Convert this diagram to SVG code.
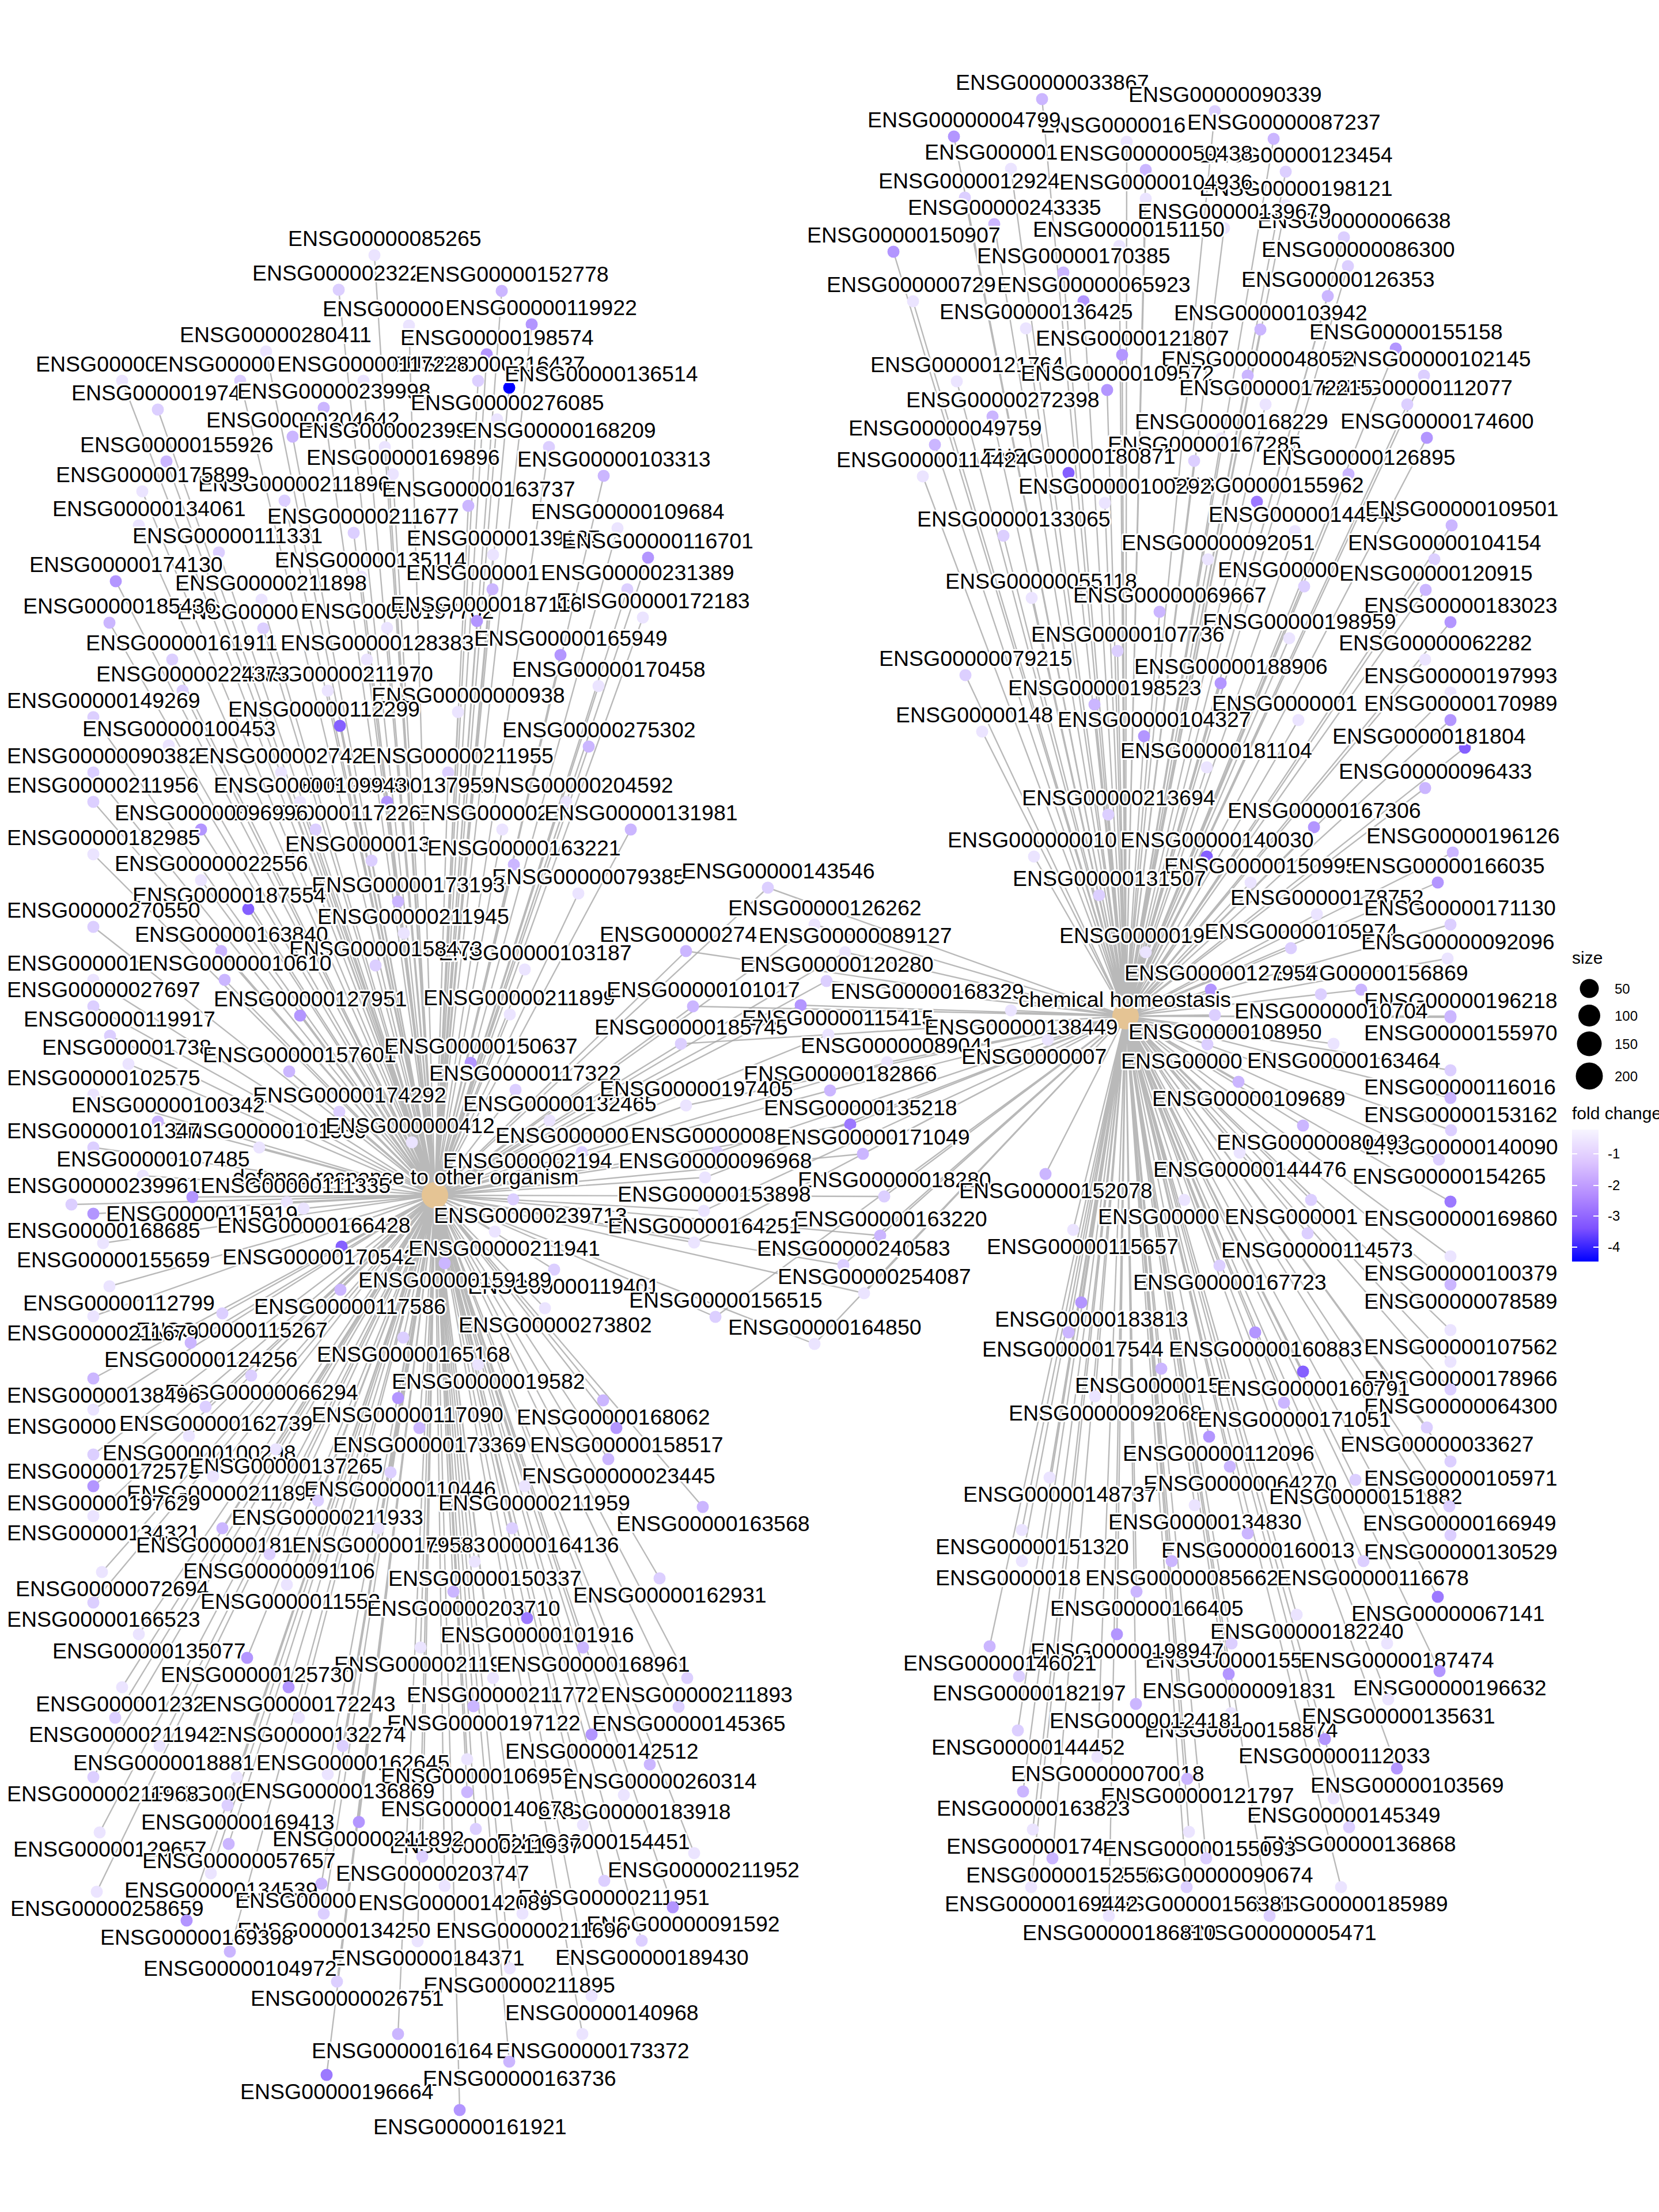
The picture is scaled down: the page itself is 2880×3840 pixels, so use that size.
<svg xmlns="http://www.w3.org/2000/svg" width="2880" height="3840" viewBox="0 0 2880 3840">
<style>
text{font-family:"Liberation Sans",Arial,sans-serif;font-size:37.5px;fill:#000;stroke:#fff;stroke-width:6px;paint-order:stroke;stroke-linejoin:round}
.lg{font-size:24px;stroke:none}
.lt{font-size:30px;stroke:none}
.e{fill:none;stroke:#a8a8a8;stroke-width:2.4;stroke-opacity:.8}
.a{fill:#ebe4ff}.b{fill:#dccfff}.c{fill:#cbb6ff}.d{fill:#b396ff}.e2{fill:#9c79ff}.g{fill:#8560ff}.f{fill:#0000ff}
.hub{fill:#e5c494}
</style>
<defs>
<linearGradient id="fc" x1="0" y1="0" x2="0" y2="1">
<stop offset="0" stop-color="#f7f5ff"/><stop offset=".25" stop-color="#dcc4ff"/><stop offset=".5" stop-color="#b38bff"/><stop offset=".75" stop-color="#7e51ff"/><stop offset="1" stop-color="#0000ff"/>
</linearGradient>
</defs>
<rect width="2880" height="3840" fill="#fff"/>
<g id="edges">
<path class="e" d="M755 2075L650 443M755 2075L588 503M755 2075L871 505M755 2075L710 565M755 2075L923 563M755 2075L462 610M755 2075L845 615M755 2075L830 661M755 2075L212 661M755 2075L417 661M755 2075L631 661M755 2075L884 673M755 2075L274 711M755 2075L562 708M755 2075L863 728M755 2075L508 758M755 2075L668 776M755 2075L953 776M755 2075L289 801M755 2075L682 823M755 2075L1048 826M755 2075L494 869M755 2075L247 853M755 2075L813 878M755 2075L241 912M755 2075L614 925M755 2075L1072 917M755 2075L380 959M755 2075L856 963M755 2075L1125 968M755 2075L201 1009M755 2075L627 1001M755 2075L855 1023M755 2075L1089 1023M755 2075L454 1041M755 2075L1116 1072M755 2075L457 1091M755 2075L190 1081M755 2075L672 1090M755 2075L828 1078M755 2075L299 1145M755 2075L637 1145M755 2075L973 1137M755 2075L1039 1191M755 2075L569 1199M755 2075L317 1199M755 2075L795 1236M755 2075L162 1245M755 2075L590 1260M755 2075L1022 1296M755 2075L293 1294M755 2075L162 1341M755 2075L488 1341M755 2075L778 1341M755 2075L983 1392M755 2075L672 1392M755 2075L521 1392M755 2075L162 1392M755 2075L872 1440M755 2075L548 1440M755 2075L349 1440M755 2075L1095 1440M755 2075L162 1483M755 2075L645 1494M755 2075L892 1501M755 2075L349 1528M755 2075L1004 1551M755 2075L691 1565M755 2075L431 1578M755 2075L162 1609M755 2075L701 1620M755 2075L384 1651M755 2075L911 1683M755 2075L652 1676M755 2075L162 1701M755 2075L390 1701M755 2075L162 1747M755 2075L521 1763M755 2075L885 1761M755 2075L191 1798M755 2075L223 1847M755 2075L502 1860M755 2075L817 1845M755 2075L162 1900M755 2075L895 1892M755 2075L589 1930M755 2075L954 1945M755 2075L274 1947M755 2075L450 1992M755 2075L162 1992M755 2075L715 1983M755 2075L1010 2000M755 2075L248 2041M755 2075L919 2044M755 2075L124 2091M755 2075L498 2087M755 2075L334 2078M755 2075L891 2082M755 2075L527 2098M755 2075L162 2107M755 2075L179 2158M755 2075L593 2164M755 2075L859 2138M755 2075L962 2204M755 2075L772 2193M755 2075L190 2233M755 2075L591 2239M755 2075L946 2271M755 2075L386 2280M755 2075L162 2285M755 2075L331 2331M755 2075L700 2322M755 2075L830 2369M755 2075L436 2388M755 2075L162 2393M755 2075L162 2447M755 2075L357 2442M755 2075L691 2427M755 2075L1047 2431M755 2075L328 2493M755 2075L728 2479M755 2075L1070 2479M755 2075L162 2525M755 2075L479 2516M755 2075L1056 2533M755 2075L370 2563M755 2075L678 2556M755 2075L162 2580M755 2075L911 2580M755 2075L552 2605M755 2075L1220 2616M755 2075L162 2632M755 2075L889 2653M755 2075L657 2653M755 2075L386 2653M755 2075L468 2698M755 2075L824 2711M755 2075L177 2729M755 2075L1145 2740M755 2075L498 2751M755 2075L787 2763M755 2075L162 2782M755 2075L915 2809M755 2075L241 2837M755 2075L730 2860M755 2075L1012 2860M755 2075L429 2878M755 2075L856 2913M755 2075L1193 2913M755 2075L212 2929M755 2075L501 2929M755 2075L822 2962M755 2075L1178 2963M755 2075L519 2982M755 2075L200 2982M755 2075L1027 3011M755 2075L277 3031M755 2075L595 3031M755 2075L811 3054M755 2075L1128 3063M755 2075L411 3085M755 2075L162 3085M755 2075L569 3080M755 2075L1083 3116M755 2075L811 3111M755 2075L395 3134M755 2075L1012 3168M755 2075L826 3175M755 2075L623 3163M755 2075L173 3181M755 2075L397 3201M755 2075L1205 3217M755 2075L733 3223M755 2075L366 3252M755 2075L1049 3265M755 2075L558 3270M755 2075L772 3274M755 2075L168 3284M755 2075L1168 3311M755 2075L907 3322M755 2075L562 3322M755 2075L324 3334M755 2075L725 3370M755 2075L1114 3369M755 2075L399 3388M755 2075L885 3417M755 2075L585 3440M755 2075L1027 3465M755 2075L691 3531M755 2075L1011 3531M755 2075L884 3579M755 2075L567 3602M755 2075L798 3663M755 2075L1333 1541M755 2075L1414 1605M755 2075L1191 1651M755 2075L1467 1653M755 2075L1435 1703M755 2075L1203 1747M755 2075L1390 1745M755 2075L1438 1796M755 2075L1182 1812M755 2075L1540 1844M755 2075L1441 1893M755 2075L1191 1919M755 2075L1476 1952M755 2075L1245 2000M755 2075L1498 2003M755 2075L1224 2044M755 2075L1535 2077M755 2075L1222 2102M755 2075L1528 2145M755 2075L1205 2157M755 2075L1464 2196M755 2075L1500 2245M755 2075L1242 2286M755 2075L1414 2333"/>
<path class="e" d="M1954 1764L1809 172M1954 1764L2109 193M1954 1764L1956 246M1954 1764L1656 237M1954 1764L2211 241M1954 1764L1755 293M1954 1764L2232 298M1954 1764L1989 295M1954 1764L1675 343M1954 1764L2232 356M1954 1764L1989 345M1954 1764L1726 389M1954 1764L2333 412M1954 1764L2125 396M1954 1764L1943 427M1954 1764L1551 437M1954 1764L2340 462M1954 1764L1846 473M1954 1764L1585 523M1954 1764L1881 523M1954 1764L2305 514M1954 1764L1781 570M1954 1764L2188 572M1954 1764L2423 605M1954 1764L1948 616M1954 1764L2472 652M1954 1764L2166 652M1954 1764L1661 662M1954 1764L1922 677M1954 1764L2443 702M1954 1764L2197 702M1954 1764L1723 723M1954 1764L2120 761M1954 1764L2477 760M1954 1764L1623 772M1954 1764L2073 800M1954 1764L1855 821M1954 1764L1602 827M1954 1764L2341 823M1954 1764L2182 871M1954 1764L1918 873M1954 1764L1742 930M1954 1764L2248 922M1954 1764L2520 912M1954 1764L2097 971M1954 1764L2490 971M1954 1764L2264 1018M1954 1764L2475 1024M1954 1764L1791 1038M1954 1764L2013 1062M1954 1764L2518 1080M1954 1764L2238 1108M1954 1764L1940 1130M1954 1764L2474 1145M1954 1764L1676 1172M1954 1764L2119 1186M1954 1764L2518 1202M1954 1764L1900 1223M1954 1764L2254 1250M1954 1764L2518 1250M1954 1764L1705 1270M1954 1764L1986 1278M1954 1764L2543 1298M1954 1764L2095 1332M1954 1764L2474 1368M1954 1764L1924 1414M1954 1764L2281 1436M1954 1764L1795 1487M1954 1764L2095 1487M1954 1764L2522 1480M1954 1764L2171 1532M1954 1764L2496 1532M1954 1764L1908 1554M1954 1764L2286 1587M1954 1764L2518 1605M1954 1764L1989 1653M1954 1764L2241 1646M1954 1764L2513 1664M1954 1764L2363 1718M1954 1764L2102 1718M1954 1764L2518 1766M1954 1764L2293 1726M1954 1764L2518 1764M1954 1764L1755 1754M1954 1764L2109 1762M1954 1764L1819 1805M1954 1764L2096 1813M1954 1764L2315 1812M1954 1764L2518 1858M1954 1764L2150 1878M1954 1764L2518 1906M1954 1764L2519 1962M1954 1764L2262 1954M1954 1764L2152 2001M1954 1764L2498 2013M1954 1764L1815 2038M1954 1764L2056 2083M1954 1764L2276 2083M1954 1764L2518 2086M1954 1764L1863 2135M1954 1764L2270 2141M1954 1764L2518 2181M1954 1764L2117 2197M1954 1764L2518 2230M1954 1764L1877 2261M1954 1764L1855 2313M1954 1764L2179 2313M1954 1764L2518 2309M1954 1764L2518 2364M1954 1764L2016 2376M1954 1764L2262 2381M1954 1764L2518 2412M1954 1764L1901 2424M1954 1764L2229 2435M1954 1764L2477 2478M1954 1764L2099 2494M1954 1764L2518 2537M1954 1764L2135 2546M1954 1764L1822 2565M1954 1764L2353 2569M1954 1764L2074 2613M1954 1764L2516 2615M1954 1764L1774 2656M1954 1764L2166 2662M1954 1764L2518 2665M1954 1764L1774 2710M1954 1764L2034 2710M1954 1764L2367 2710M1954 1764L1973 2763M1954 1764L2496 2772M1954 1764L2251 2803M1954 1764L2138 2853M1954 1764L1939 2837M1954 1764L1718 2858M1954 1764L2408 2853M1954 1764L1769 2910M1954 1764L2133 2906M1954 1764L2499 2901M1954 1764L2137 2974M1954 1764L1972 2958M1954 1764L2410 2950M1954 1764L1767 3004M1954 1764L2300 3019M1954 1764L1905 3050M1954 1764L2425 3070M1954 1764L2061 3088M1954 1764L1776 3110M1954 1764L2315 3122M1954 1764L2342 3172M1954 1764L1793 3176M1954 1764L2064 3180M1954 1764L2094 3226M1954 1764L1827 3226M1954 1764L2328 3276M1954 1764L2060 3276M1954 1764L1790 3276M1954 1764L2204 3326M1954 1764L1925 3326M1954 1764L1333 1541M1954 1764L1414 1605M1954 1764L1191 1651M1954 1764L1467 1653M1954 1764L1435 1703M1954 1764L1203 1747M1954 1764L1390 1745M1954 1764L1438 1796M1954 1764L1182 1812M1954 1764L1540 1844M1954 1764L1441 1893M1954 1764L1191 1919M1954 1764L1476 1952M1954 1764L1245 2000M1954 1764L1498 2003M1954 1764L1224 2044M1954 1764L1535 2077M1954 1764L1222 2102M1954 1764L1528 2145M1954 1764L1205 2157M1954 1764L1464 2196M1954 1764L1500 2245M1954 1764L1242 2286M1954 1764L1414 2333"/>
</g>
<g id="nodes">
<g id="l1"><circle class="a" cx="650" cy="443" r="10.5"/><text x="500" y="427">ENSG00000085265</text></g>
<g id="l2"><circle class="b" cx="588" cy="503" r="10.5"/><text x="438" y="487">ENSG000002322</text></g>
<g id="l3"><circle class="c" cx="871" cy="505" r="10.5"/><text x="721" y="489">ENSG00000152778</text></g>
<g id="l4"><circle class="a" cx="710" cy="565" r="10.5"/><text x="560" y="549">ENSG00000</text></g>
<g id="l5"><circle class="d" cx="923" cy="563" r="10.5"/><text x="773" y="547">ENSG00000119922</text></g>
<g id="l6"><circle class="a" cx="462" cy="610" r="10.5"/><text x="312" y="594">ENSG00000280411</text></g>
<g id="l7"><circle class="d" cx="845" cy="615" r="10.5"/><text x="695" y="599">ENSG00000198574</text></g>
<g id="l8"><circle class="b" cx="830" cy="661" r="10.5"/><text x="680" y="645">ENSG00000216437</text></g>
<g id="l9"><circle class="a" cx="212" cy="661" r="10.5"/><text x="62" y="645">ENSG00000</text></g>
<g id="l10"><circle class="b" cx="417" cy="661" r="10.5"/><text x="267" y="645">ENSG00000</text></g>
<g id="l11"><circle class="a" cx="631" cy="661" r="10.5"/><text x="481" y="645">ENSG00000117228</text></g>
<g id="l12"><circle class="f" cx="884" cy="673" r="10.5"/><text x="876" y="662">ENSG00000136514</text></g>
<g id="l13"><circle class="b" cx="274" cy="711" r="10.5"/><text x="124" y="695">ENSG000001974</text></g>
<g id="l14"><circle class="c" cx="562" cy="708" r="10.5"/><text x="412" y="692">ENSG00000239998</text></g>
<g id="l15"><circle class="a" cx="863" cy="728" r="10.5"/><text x="713" y="712">ENSG00000276085</text></g>
<g id="l16"><circle class="c" cx="508" cy="758" r="10.5"/><text x="358" y="742">ENSG00000204642</text></g>
<g id="l17"><circle class="a" cx="668" cy="776" r="10.5"/><text x="518" y="760">ENSG000002399</text></g>
<g id="l18"><circle class="b" cx="953" cy="776" r="10.5"/><text x="803" y="760">ENSG00000168209</text></g>
<g id="l19"><circle class="c" cx="289" cy="801" r="10.5"/><text x="139" y="785">ENSG00000155926</text></g>
<g id="l20"><circle class="a" cx="682" cy="823" r="10.5"/><text x="532" y="807">ENSG00000169896</text></g>
<g id="l21"><circle class="c" cx="1048" cy="826" r="10.5"/><text x="898" y="810">ENSG00000103313</text></g>
<g id="l22"><circle class="b" cx="494" cy="869" r="10.5"/><text x="344" y="853">ENSG00000211896</text></g>
<g id="l23"><circle class="a" cx="247" cy="853" r="10.5"/><text x="97" y="837">ENSG00000175899</text></g>
<g id="l24"><circle class="c" cx="813" cy="878" r="10.5"/><text x="663" y="862">ENSG00000163737</text></g>
<g id="l25"><circle class="a" cx="241" cy="912" r="10.5"/><text x="91" y="896">ENSG00000134061</text></g>
<g id="l26"><circle class="b" cx="614" cy="925" r="10.5"/><text x="464" y="909">ENSG00000211677</text></g>
<g id="l27"><circle class="a" cx="1072" cy="917" r="10.5"/><text x="922" y="901">ENSG00000109684</text></g>
<g id="l28"><circle class="b" cx="380" cy="959" r="10.5"/><text x="230" y="943">ENSG00000111331</text></g>
<g id="l29"><circle class="a" cx="856" cy="963" r="10.5"/><text x="706" y="947">ENSG00000139187</text></g>
<g id="l30"><circle class="d" cx="1125" cy="968" r="10.5"/><text x="975" y="952">ENSG00000116701</text></g>
<g id="l31"><circle class="d" cx="201" cy="1009" r="10.5"/><text x="51" y="993">ENSG00000174130</text></g>
<g id="l32"><circle class="a" cx="627" cy="1001" r="10.5"/><text x="477" y="985">ENSG00000135114</text></g>
<g id="l33"><circle class="c" cx="855" cy="1023" r="10.5"/><text x="705" y="1007">ENSG000001</text></g>
<g id="l34"><circle class="b" cx="1089" cy="1023" r="10.5"/><text x="939" y="1007">ENSG00000231389</text></g>
<g id="l35"><circle class="a" cx="454" cy="1041" r="10.5"/><text x="304" y="1025">ENSG00000211898</text></g>
<g id="l36"><circle class="a" cx="1116" cy="1072" r="10.5"/><text x="966" y="1056">ENSG00000172183</text></g>
<g id="l37"><circle class="b" cx="457" cy="1091" r="10.5"/><text x="307" y="1075">ENSG00000</text></g>
<g id="l38"><circle class="c" cx="190" cy="1081" r="10.5"/><text x="40" y="1065">ENSG00000185436</text></g>
<g id="l39"><circle class="a" cx="672" cy="1090" r="10.5"/><text x="522" y="1074">ENSG00000197702</text></g>
<g id="l40"><circle class="d" cx="828" cy="1078" r="10.5"/><text x="678" y="1062">ENSG00000187116</text></g>
<g id="l41"><circle class="b" cx="299" cy="1145" r="10.5"/><text x="149" y="1129">ENSG00000161911</text></g>
<g id="l42"><circle class="a" cx="637" cy="1145" r="10.5"/><text x="487" y="1129">ENSG00000128383</text></g>
<g id="l43"><circle class="d" cx="973" cy="1137" r="10.5"/><text x="823" y="1121">ENSG00000165949</text></g>
<g id="l44"><circle class="a" cx="1039" cy="1191" r="10.5"/><text x="889" y="1175">ENSG00000170458</text></g>
<g id="l45"><circle class="a" cx="569" cy="1199" r="10.5"/><text x="419" y="1183">ENSG00000211970</text></g>
<g id="l46"><circle class="b" cx="317" cy="1199" r="10.5"/><text x="167" y="1183">ENSG00000224373</text></g>
<g id="l47"><circle class="a" cx="795" cy="1236" r="10.5"/><text x="645" y="1220">ENSG00000000938</text></g>
<g id="l48"><circle class="b" cx="162" cy="1245" r="10.5"/><text x="12" y="1229">ENSG00000149269</text></g>
<g id="l49"><circle class="g" cx="590" cy="1260" r="10.5"/><text x="396" y="1244">ENSG00000112299</text></g>
<g id="l50"><circle class="c" cx="1022" cy="1296" r="10.5"/><text x="872" y="1280">ENSG00000275302</text></g>
<g id="l51"><circle class="a" cx="293" cy="1294" r="10.5"/><text x="143" y="1278">ENSG00000100453</text></g>
<g id="l52"><circle class="b" cx="162" cy="1341" r="10.5"/><text x="12" y="1325">ENSG00000090382</text></g>
<g id="l53"><circle class="a" cx="488" cy="1341" r="10.5"/><text x="338" y="1325">ENSG000002742</text></g>
<g id="l54"><circle class="b" cx="778" cy="1341" r="10.5"/><text x="628" y="1325">ENSG00000211955</text></g>
<g id="l55"><circle class="a" cx="983" cy="1392" r="10.5"/><text x="833" y="1376">ENSG00000204592</text></g>
<g id="l56"><circle class="d" cx="672" cy="1392" r="10.5"/><text x="522" y="1376">ENSG00000137959</text></g>
<g id="l57"><circle class="a" cx="521" cy="1392" r="10.5"/><text x="371" y="1376">ENSG00000109943</text></g>
<g id="l58"><circle class="b" cx="162" cy="1392" r="10.5"/><text x="12" y="1376">ENSG00000211956</text></g>
<g id="l59"><circle class="a" cx="872" cy="1440" r="10.5"/><text x="722" y="1424">ENSG000002</text></g>
<g id="l60"><circle class="b" cx="548" cy="1440" r="10.5"/><text x="398" y="1424">ENSG00000117226</text></g>
<g id="l61"><circle class="d" cx="349" cy="1440" r="10.5"/><text x="199" y="1424">ENSG00000096996</text></g>
<g id="l62"><circle class="c" cx="1095" cy="1440" r="10.5"/><text x="945" y="1424">ENSG00000131981</text></g>
<g id="l63"><circle class="a" cx="162" cy="1483" r="10.5"/><text x="12" y="1467">ENSG00000182985</text></g>
<g id="l64"><circle class="b" cx="645" cy="1494" r="10.5"/><text x="495" y="1478">ENSG0000013</text></g>
<g id="l65"><circle class="c" cx="892" cy="1501" r="10.5"/><text x="742" y="1485">ENSG00000163221</text></g>
<g id="l66"><circle class="a" cx="349" cy="1528" r="10.5"/><text x="199" y="1512">ENSG00000022556</text></g>
<g id="l67"><circle class="a" cx="1004" cy="1551" r="10.5"/><text x="854" y="1535">ENSG00000079385</text></g>
<g id="l68"><circle class="c" cx="691" cy="1565" r="10.5"/><text x="541" y="1549">ENSG00000173193</text></g>
<g id="l69"><circle class="g" cx="431" cy="1578" r="10.5"/><text x="230" y="1567">ENSG00000187554</text></g>
<g id="l70"><circle class="b" cx="162" cy="1609" r="10.5"/><text x="12" y="1593">ENSG00000270550</text></g>
<g id="l71"><circle class="a" cx="701" cy="1620" r="10.5"/><text x="551" y="1604">ENSG00000211945</text></g>
<g id="l72"><circle class="c" cx="384" cy="1651" r="10.5"/><text x="234" y="1635">ENSG00000163840</text></g>
<g id="l73"><circle class="a" cx="911" cy="1683" r="10.5"/><text x="761" y="1667">ENSG00000103187</text></g>
<g id="l74"><circle class="b" cx="652" cy="1676" r="10.5"/><text x="502" y="1660">ENSG00000158473</text></g>
<g id="l75"><circle class="a" cx="162" cy="1701" r="10.5"/><text x="12" y="1685">ENSG000001</text></g>
<g id="l76"><circle class="c" cx="390" cy="1701" r="10.5"/><text x="240" y="1685">ENSG00000010610</text></g>
<g id="l77"><circle class="b" cx="162" cy="1747" r="10.5"/><text x="12" y="1731">ENSG00000027697</text></g>
<g id="l78"><circle class="d" cx="521" cy="1763" r="10.5"/><text x="371" y="1747">ENSG00000127951</text></g>
<g id="l79"><circle class="a" cx="885" cy="1761" r="10.5"/><text x="735" y="1745">ENSG00000211899</text></g>
<g id="l80"><circle class="b" cx="191" cy="1798" r="10.5"/><text x="41" y="1782">ENSG00000119917</text></g>
<g id="l81"><circle class="a" cx="223" cy="1847" r="10.5"/><text x="73" y="1831">ENSG000001738</text></g>
<g id="l82"><circle class="c" cx="502" cy="1860" r="10.5"/><text x="352" y="1844">ENSG00000157601</text></g>
<g id="l83"><circle class="d" cx="817" cy="1845" r="10.5"/><text x="667" y="1829">ENSG00000150637</text></g>
<g id="l84"><circle class="a" cx="162" cy="1900" r="10.5"/><text x="12" y="1884">ENSG00000102575</text></g>
<g id="l85"><circle class="b" cx="895" cy="1892" r="10.5"/><text x="745" y="1876">ENSG00000117322</text></g>
<g id="l86"><circle class="b" cx="589" cy="1930" r="10.5"/><text x="439" y="1914">ENSG00000174292</text></g>
<g id="l87"><circle class="a" cx="954" cy="1945" r="10.5"/><text x="804" y="1929">ENSG00000132465</text></g>
<g id="l88"><circle class="c" cx="274" cy="1947" r="10.5"/><text x="124" y="1931">ENSG00000100342</text></g>
<g id="l89"><circle class="a" cx="450" cy="1992" r="10.5"/><text x="300" y="1976">ENSG00000101336</text></g>
<g id="l90"><circle class="b" cx="162" cy="1992" r="10.5"/><text x="12" y="1976">ENSG00000101347</text></g>
<g id="l91"><circle class="a" cx="715" cy="1983" r="10.5"/><text x="565" y="1967">ENSG000000412</text></g>
<g id="l92"><circle class="b" cx="1010" cy="2000" r="10.5"/><text x="860" y="1984">ENSG000000</text></g>
<g id="l93"><circle class="a" cx="248" cy="2041" r="10.5"/><text x="98" y="2025">ENSG00000107485</text></g>
<g id="l94"><circle class="c" cx="919" cy="2044" r="10.5"/><text x="769" y="2028">ENSG000002194</text></g>
<g id="hub1"><circle class="hub" cx="755" cy="2075" r="23"/><text x="404" y="2056">defense response to other organism</text></g>
<g id="l96"><circle class="b" cx="124" cy="2091" r="10.5"/><text x="12" y="2071">ENSG00000239961</text></g>
<g id="l97"><circle class="a" cx="498" cy="2087" r="10.5"/><text x="348" y="2071">ENSG00000111335</text></g>
<g id="l98"><circle class="d" cx="334" cy="2078" r="10.5"/><text x="184" y="2120">ENSG00000115919</text></g>
<g id="l99"><circle class="b" cx="891" cy="2082" r="10.5"/><text x="753" y="2123">ENSG00000239713</text></g>
<g id="l100"><circle class="a" cx="527" cy="2098" r="10.5"/><text x="377" y="2140">ENSG00000166428</text></g>
<g id="l101"><circle class="d" cx="162" cy="2107" r="10.5"/><text x="12" y="2149">ENSG00000168685</text></g>
<g id="l102"><circle class="a" cx="179" cy="2158" r="10.5"/><text x="29" y="2200">ENSG00000155659</text></g>
<g id="l103"><circle class="g" cx="593" cy="2164" r="10.5"/><text x="386" y="2195">ENSG00000170542</text></g>
<g id="l104"><circle class="a" cx="859" cy="2138" r="10.5"/><text x="709" y="2180">ENSG00000211941</text></g>
<g id="l105"><circle class="b" cx="962" cy="2204" r="10.5"/><text x="812" y="2246">ENSG00000119401</text></g>
<g id="l106"><circle class="c" cx="772" cy="2193" r="10.5"/><text x="622" y="2235">ENSG00000159189</text></g>
<g id="l107"><circle class="a" cx="190" cy="2233" r="10.5"/><text x="40" y="2275">ENSG00000112799</text></g>
<g id="l108"><circle class="c" cx="591" cy="2239" r="10.5"/><text x="441" y="2281">ENSG00000117586</text></g>
<g id="l109"><circle class="a" cx="946" cy="2271" r="10.5"/><text x="796" y="2313">ENSG00000273802</text></g>
<g id="l110"><circle class="b" cx="386" cy="2280" r="10.5"/><text x="236" y="2322">ENSG00000115267</text></g>
<g id="l111"><circle class="a" cx="162" cy="2285" r="10.5"/><text x="12" y="2327">ENSG00000211679</text></g>
<g id="l112"><circle class="c" cx="331" cy="2331" r="10.5"/><text x="181" y="2373">ENSG00000124256</text></g>
<g id="l113"><circle class="b" cx="700" cy="2322" r="10.5"/><text x="550" y="2364">ENSG00000165168</text></g>
<g id="l114"><circle class="a" cx="830" cy="2369" r="10.5"/><text x="680" y="2411">ENSG00000019582</text></g>
<g id="l115"><circle class="b" cx="436" cy="2388" r="10.5"/><text x="286" y="2430">ENSG00000066294</text></g>
<g id="l116"><circle class="c" cx="162" cy="2393" r="10.5"/><text x="12" y="2435">ENSG00000138496</text></g>
<g id="l117"><circle class="a" cx="162" cy="2447" r="10.5"/><text x="12" y="2489">ENSG0000</text></g>
<g id="l118"><circle class="b" cx="357" cy="2442" r="10.5"/><text x="207" y="2484">ENSG00000162739</text></g>
<g id="l119"><circle class="d" cx="691" cy="2427" r="10.5"/><text x="541" y="2469">ENSG00000117090</text></g>
<g id="l120"><circle class="c" cx="1047" cy="2431" r="10.5"/><text x="897" y="2473">ENSG00000168062</text></g>
<g id="l121"><circle class="a" cx="328" cy="2493" r="10.5"/><text x="178" y="2535">ENSG00000100298</text></g>
<g id="l122"><circle class="c" cx="728" cy="2479" r="10.5"/><text x="578" y="2521">ENSG00000173369</text></g>
<g id="l123"><circle class="d" cx="1070" cy="2479" r="10.5"/><text x="920" y="2521">ENSG00000158517</text></g>
<g id="l125"><circle class="b" cx="162" cy="2525" r="10.5"/><text x="12" y="2567">ENSG00000172575</text></g>
<g id="l124"><circle class="a" cx="479" cy="2516" r="10.5"/><text x="329" y="2558">ENSG00000137265</text></g>
<g id="l126"><circle class="c" cx="1056" cy="2533" r="10.5"/><text x="906" y="2575">ENSG00000023445</text></g>
<g id="l127"><circle class="a" cx="370" cy="2563" r="10.5"/><text x="220" y="2605">ENSG00000211897</text></g>
<g id="l128"><circle class="b" cx="678" cy="2556" r="10.5"/><text x="528" y="2598">ENSG00000110446</text></g>
<g id="l129"><circle class="d" cx="162" cy="2580" r="10.5"/><text x="12" y="2622">ENSG00000197629</text></g>
<g id="l130"><circle class="a" cx="911" cy="2580" r="10.5"/><text x="761" y="2622">ENSG00000211959</text></g>
<g id="l131"><circle class="b" cx="552" cy="2605" r="10.5"/><text x="402" y="2647">ENSG00000211933</text></g>
<g id="l132"><circle class="c" cx="1220" cy="2616" r="10.5"/><text x="1070" y="2658">ENSG00000163568</text></g>
<g id="l133"><circle class="a" cx="162" cy="2632" r="10.5"/><text x="12" y="2674">ENSG00000134321</text></g>
<g id="l134"><circle class="b" cx="889" cy="2653" r="10.5"/><text x="739" y="2695">ENSG00000164136</text></g>
<g id="l135"><circle class="a" cx="657" cy="2653" r="10.5"/><text x="507" y="2695">ENSG00000179583</text></g>
<g id="l136"><circle class="c" cx="386" cy="2653" r="10.5"/><text x="236" y="2695">ENSG00000181</text></g>
<g id="l137"><circle class="b" cx="468" cy="2698" r="10.5"/><text x="318" y="2740">ENSG00000091106</text></g>
<g id="l138"><circle class="a" cx="824" cy="2711" r="10.5"/><text x="674" y="2753">ENSG00000150337</text></g>
<g id="l139"><circle class="a" cx="177" cy="2729" r="10.5"/><text x="27" y="2771">ENSG00000072694</text></g>
<g id="l140"><circle class="b" cx="1145" cy="2740" r="10.5"/><text x="995" y="2782">ENSG00000162931</text></g>
<g id="l141"><circle class="a" cx="498" cy="2751" r="10.5"/><text x="348" y="2793">ENSG0000011552</text></g>
<g id="l142"><circle class="c" cx="787" cy="2763" r="10.5"/><text x="637" y="2805">ENSG00000203710</text></g>
<g id="l143"><circle class="b" cx="162" cy="2782" r="10.5"/><text x="12" y="2824">ENSG00000166523</text></g>
<g id="l144"><circle class="e2" cx="915" cy="2809" r="10.5"/><text x="765" y="2851">ENSG00000101916</text></g>
<g id="l145"><circle class="a" cx="241" cy="2837" r="10.5"/><text x="91" y="2879">ENSG00000135077</text></g>
<g id="l146"><circle class="a" cx="730" cy="2860" r="10.5"/><text x="580" y="2902">ENSG000002119</text></g>
<g id="l147"><circle class="c" cx="1012" cy="2860" r="10.5"/><text x="862" y="2902">ENSG00000168961</text></g>
<g id="l148"><circle class="d" cx="429" cy="2878" r="10.5"/><text x="279" y="2920">ENSG00000125730</text></g>
<g id="l150"><circle class="a" cx="856" cy="2913" r="10.5"/><text x="706" y="2955">ENSG00000211772</text></g>
<g id="l149"><circle class="b" cx="1193" cy="2913" r="10.5"/><text x="1043" y="2955">ENSG00000211893</text></g>
<g id="l151"><circle class="a" cx="212" cy="2929" r="10.5"/><text x="62" y="2971">ENSG000001232</text></g>
<g id="l152"><circle class="d" cx="501" cy="2929" r="10.5"/><text x="351" y="2971">ENSG00000172243</text></g>
<g id="l153"><circle class="c" cx="822" cy="2962" r="10.5"/><text x="672" y="3004">ENSG00000197122</text></g>
<g id="l154"><circle class="b" cx="1178" cy="2963" r="10.5"/><text x="1028" y="3005">ENSG00000145365</text></g>
<g id="l155"><circle class="a" cx="519" cy="2982" r="10.5"/><text x="369" y="3024">ENSG00000132274</text></g>
<g id="l156"><circle class="b" cx="200" cy="2982" r="10.5"/><text x="50" y="3024">ENSG00000211942</text></g>
<g id="l157"><circle class="d" cx="1027" cy="3011" r="10.5"/><text x="877" y="3053">ENSG00000142512</text></g>
<g id="l158"><circle class="a" cx="277" cy="3031" r="10.5"/><text x="127" y="3073">ENSG0000018881</text></g>
<g id="l159"><circle class="b" cx="595" cy="3031" r="10.5"/><text x="445" y="3073">ENSG00000162645</text></g>
<g id="l160"><circle class="a" cx="811" cy="3054" r="10.5"/><text x="661" y="3096">ENSG00000106952</text></g>
<g id="l161"><circle class="c" cx="1128" cy="3063" r="10.5"/><text x="978" y="3105">ENSG00000260314</text></g>
<g id="l162"><circle class="a" cx="411" cy="3085" r="10.5"/><text x="261" y="3127">ENSG000</text></g>
<g id="l163"><circle class="b" cx="162" cy="3085" r="10.5"/><text x="12" y="3127">ENSG00000211968</text></g>
<g id="l164"><circle class="a" cx="569" cy="3080" r="10.5"/><text x="419" y="3122">ENSG00000136869</text></g>
<g id="l166"><circle class="a" cx="1083" cy="3116" r="10.5"/><text x="933" y="3158">ENSG00000183918</text></g>
<g id="l165"><circle class="c" cx="811" cy="3111" r="10.5"/><text x="661" y="3153">ENSG00000140678</text></g>
<g id="l167"><circle class="b" cx="395" cy="3134" r="10.5"/><text x="245" y="3176">ENSG00000169413</text></g>
<g id="l168"><circle class="a" cx="1012" cy="3168" r="10.5"/><text x="862" y="3210">ENSG00000154451</text></g>
<g id="l169"><circle class="b" cx="826" cy="3175" r="10.5"/><text x="676" y="3217">ENSG00000211937</text></g>
<g id="l170"><circle class="d" cx="623" cy="3163" r="10.5"/><text x="473" y="3205">ENSG00000211892</text></g>
<g id="l171"><circle class="a" cx="173" cy="3181" r="10.5"/><text x="23" y="3223">ENSG00000129657</text></g>
<g id="l172"><circle class="c" cx="397" cy="3201" r="10.5"/><text x="247" y="3243">ENSG00000057657</text></g>
<g id="l173"><circle class="a" cx="1205" cy="3217" r="10.5"/><text x="1055" y="3259">ENSG00000211952</text></g>
<g id="l174"><circle class="b" cx="733" cy="3223" r="10.5"/><text x="583" y="3265">ENSG00000203747</text></g>
<g id="l175"><circle class="a" cx="366" cy="3252" r="10.5"/><text x="216" y="3294">ENSG00000134539</text></g>
<g id="l176"><circle class="b" cx="1049" cy="3265" r="10.5"/><text x="899" y="3307">ENSG00000211951</text></g>
<g id="l177"><circle class="c" cx="558" cy="3270" r="10.5"/><text x="408" y="3312">ENSG00000</text></g>
<g id="l178"><circle class="a" cx="772" cy="3274" r="10.5"/><text x="622" y="3316">ENSG00000142089</text></g>
<g id="l179"><circle class="a" cx="168" cy="3284" r="10.5"/><text x="18" y="3326">ENSG00000258659</text></g>
<g id="l180"><circle class="d" cx="1168" cy="3311" r="10.5"/><text x="1018" y="3353">ENSG00000091592</text></g>
<g id="l181"><circle class="a" cx="907" cy="3322" r="10.5"/><text x="757" y="3364">ENSG00000211696</text></g>
<g id="l182"><circle class="b" cx="562" cy="3322" r="10.5"/><text x="412" y="3364">ENSG00000134250</text></g>
<g id="l183"><circle class="d" cx="324" cy="3334" r="10.5"/><text x="174" y="3376">ENSG00000169398</text></g>
<g id="l184"><circle class="a" cx="725" cy="3370" r="10.5"/><text x="575" y="3412">ENSG00000184371</text></g>
<g id="l185"><circle class="b" cx="1114" cy="3369" r="10.5"/><text x="964" y="3411">ENSG00000189430</text></g>
<g id="l186"><circle class="c" cx="399" cy="3388" r="10.5"/><text x="249" y="3430">ENSG00000104972</text></g>
<g id="l187"><circle class="a" cx="885" cy="3417" r="10.5"/><text x="735" y="3459">ENSG00000211895</text></g>
<g id="l188"><circle class="b" cx="585" cy="3440" r="10.5"/><text x="435" y="3482">ENSG00000026751</text></g>
<g id="l189"><circle class="a" cx="1027" cy="3465" r="10.5"/><text x="877" y="3507">ENSG00000140968</text></g>
<g id="l191"><circle class="c" cx="691" cy="3531" r="10.5"/><text x="541" y="3573">ENSG0000016164</text></g>
<g id="l190"><circle class="a" cx="1011" cy="3531" r="10.5"/><text x="861" y="3573">ENSG00000173372</text></g>
<g id="l192"><circle class="c" cx="884" cy="3579" r="10.5"/><text x="734" y="3621">ENSG00000163736</text></g>
<g id="l193"><circle class="e2" cx="567" cy="3602" r="10.5"/><text x="417" y="3644">ENSG00000196664</text></g>
<g id="l194"><circle class="d" cx="798" cy="3663" r="10.5"/><text x="648" y="3705">ENSG00000161921</text></g>
<g id="s1"><circle class="b" cx="1333" cy="1541" r="10.5"/><text x="1183" y="1525">ENSG00000143546</text></g>
<g id="s2"><circle class="a" cx="1414" cy="1605" r="10.5"/><text x="1264" y="1589">ENSG00000126262</text></g>
<g id="s3"><circle class="c" cx="1191" cy="1651" r="10.5"/><text x="1041" y="1635">ENSG00000274</text></g>
<g id="s4"><circle class="a" cx="1467" cy="1653" r="10.5"/><text x="1317" y="1637">ENSG00000089127</text></g>
<g id="s5"><circle class="b" cx="1435" cy="1703" r="10.5"/><text x="1285" y="1687">ENSG00000120280</text></g>
<g id="s6"><circle class="c" cx="1203" cy="1747" r="10.5"/><text x="1053" y="1731">ENSG00000101017</text></g>
<g id="s7"><circle class="d" cx="1390" cy="1745" r="10.5"/><text x="1442" y="1734">ENSG00000168329</text></g>
<g id="s8"><circle class="a" cx="1438" cy="1796" r="10.5"/><text x="1288" y="1780">ENSG00000115415</text></g>
<g id="s9"><circle class="b" cx="1182" cy="1812" r="10.5"/><text x="1032" y="1796">ENSG00000185745</text></g>
<g id="s10"><circle class="a" cx="1540" cy="1844" r="10.5"/><text x="1390" y="1828">ENSG00000089041</text></g>
<g id="s11"><circle class="c" cx="1441" cy="1893" r="10.5"/><text x="1291" y="1877">ENSG00000182866</text></g>
<g id="s12"><circle class="a" cx="1191" cy="1919" r="10.5"/><text x="1041" y="1903">ENSG00000197405</text></g>
<g id="s13"><circle class="e2" cx="1476" cy="1952" r="10.5"/><text x="1326" y="1936">ENSG00000135218</text></g>
<g id="s14"><circle class="b" cx="1245" cy="2000" r="10.5"/><text x="1095" y="1984">ENSG0000008</text></g>
<g id="s15"><circle class="c" cx="1498" cy="2003" r="10.5"/><text x="1348" y="1987">ENSG00000171049</text></g>
<g id="s16"><circle class="a" cx="1224" cy="2044" r="10.5"/><text x="1074" y="2028">ENSG00000096968</text></g>
<g id="s17"><circle class="b" cx="1535" cy="2077" r="10.5"/><text x="1385" y="2061">ENSG00000018280</text></g>
<g id="s18"><circle class="a" cx="1222" cy="2102" r="10.5"/><text x="1072" y="2086">ENSG00000153898</text></g>
<g id="s19"><circle class="c" cx="1528" cy="2145" r="10.5"/><text x="1378" y="2129">ENSG00000163220</text></g>
<g id="s20"><circle class="a" cx="1205" cy="2157" r="10.5"/><text x="1055" y="2141">ENSG00000164251</text></g>
<g id="s21"><circle class="b" cx="1464" cy="2196" r="10.5"/><text x="1314" y="2180">ENSG00000240583</text></g>
<g id="s22"><circle class="a" cx="1500" cy="2245" r="10.5"/><text x="1350" y="2229">ENSG00000254087</text></g>
<g id="s23"><circle class="b" cx="1242" cy="2286" r="10.5"/><text x="1092" y="2270">ENSG00000156515</text></g>
<g id="s24"><circle class="a" cx="1414" cy="2333" r="10.5"/><text x="1264" y="2317">ENSG00000164850</text></g>
<g id="r1"><circle class="c" cx="1809" cy="172" r="10.5"/><text x="1659" y="156">ENSG00000033867</text></g>
<g id="r2"><circle class="b" cx="2109" cy="193" r="10.5"/><text x="1959" y="177">ENSG00000090339</text></g>
<g id="r3"><circle class="a" cx="1956" cy="246" r="10.5"/><text x="1806" y="230">ENSG0000016</text></g>
<g id="r4"><circle class="d" cx="1656" cy="237" r="10.5"/><text x="1506" y="221">ENSG00000004799</text></g>
<g id="r5"><circle class="c" cx="2211" cy="241" r="10.5"/><text x="2061" y="225">ENSG00000087237</text></g>
<g id="r6"><circle class="a" cx="1755" cy="293" r="10.5"/><text x="1605" y="277">ENSG000001</text></g>
<g id="r7"><circle class="b" cx="2232" cy="298" r="10.5"/><text x="2082" y="282">ENSG00000123454</text></g>
<g id="r8"><circle class="c" cx="1989" cy="295" r="10.5"/><text x="1839" y="279">ENSG00000050438</text></g>
<g id="r9"><circle class="b" cx="1675" cy="343" r="10.5"/><text x="1525" y="327">ENSG0000012924</text></g>
<g id="r11"><circle class="a" cx="2232" cy="356" r="10.5"/><text x="2082" y="340">ENSG00000198121</text></g>
<g id="r10"><circle class="a" cx="1989" cy="345" r="10.5"/><text x="1839" y="329">ENSG00000104936</text></g>
<g id="r12"><circle class="c" cx="1726" cy="389" r="10.5"/><text x="1576" y="373">ENSG00000243335</text></g>
<g id="r13"><circle class="b" cx="2333" cy="412" r="10.5"/><text x="2183" y="396">ENSG00000006638</text></g>
<g id="r14"><circle class="a" cx="2125" cy="396" r="10.5"/><text x="1975" y="380">ENSG00000139679</text></g>
<g id="r15"><circle class="a" cx="1943" cy="427" r="10.5"/><text x="1793" y="411">ENSG00000151150</text></g>
<g id="r16"><circle class="d" cx="1551" cy="437" r="10.5"/><text x="1401" y="421">ENSG00000150907</text></g>
<g id="r17"><circle class="b" cx="2340" cy="462" r="10.5"/><text x="2190" y="446">ENSG00000086300</text></g>
<g id="r18"><circle class="c" cx="1846" cy="473" r="10.5"/><text x="1696" y="457">ENSG00000170385</text></g>
<g id="r19"><circle class="a" cx="1585" cy="523" r="10.5"/><text x="1435" y="507">ENSG000000729</text></g>
<g id="r20"><circle class="d" cx="1881" cy="523" r="10.5"/><text x="1731" y="507">ENSG00000065923</text></g>
<g id="r21"><circle class="c" cx="2305" cy="514" r="10.5"/><text x="2155" y="498">ENSG00000126353</text></g>
<g id="r22"><circle class="a" cx="1781" cy="570" r="10.5"/><text x="1631" y="554">ENSG00000136425</text></g>
<g id="r23"><circle class="c" cx="2188" cy="572" r="10.5"/><text x="2038" y="556">ENSG00000103942</text></g>
<g id="r24"><circle class="d" cx="2423" cy="605" r="10.5"/><text x="2273" y="589">ENSG00000155158</text></g>
<g id="r25"><circle class="d" cx="1948" cy="616" r="10.5"/><text x="1798" y="600">ENSG00000121807</text></g>
<g id="r26"><circle class="b" cx="2472" cy="652" r="10.5"/><text x="2322" y="636">ENSG00000102145</text></g>
<g id="r27"><circle class="c" cx="2166" cy="652" r="10.5"/><text x="2016" y="636">ENSG00000048052</text></g>
<g id="r28"><circle class="a" cx="1661" cy="662" r="10.5"/><text x="1511" y="646">ENSG00000121764</text></g>
<g id="r29"><circle class="d" cx="1922" cy="677" r="10.5"/><text x="1772" y="661">ENSG00000109572</text></g>
<g id="r30"><circle class="b" cx="2443" cy="702" r="10.5"/><text x="2293" y="686">ENSG00000112077</text></g>
<g id="r31"><circle class="a" cx="2197" cy="702" r="10.5"/><text x="2047" y="686">ENSG00000172215</text></g>
<g id="r32"><circle class="c" cx="1723" cy="723" r="10.5"/><text x="1573" y="707">ENSG00000272398</text></g>
<g id="r33"><circle class="a" cx="2120" cy="761" r="10.5"/><text x="1970" y="745">ENSG00000168229</text></g>
<g id="r34"><circle class="d" cx="2477" cy="760" r="10.5"/><text x="2327" y="744">ENSG00000174600</text></g>
<g id="r35"><circle class="c" cx="1623" cy="772" r="10.5"/><text x="1473" y="756">ENSG00000049759</text></g>
<g id="r36"><circle class="b" cx="2073" cy="800" r="10.5"/><text x="1923" y="784">ENSG00000167285</text></g>
<g id="r37"><circle class="g" cx="1855" cy="821" r="10.5"/><text x="1705" y="805">ENSG00000180871</text></g>
<g id="r38"><circle class="a" cx="1602" cy="827" r="10.5"/><text x="1452" y="811">ENSG00000114424</text></g>
<g id="r39"><circle class="c" cx="2341" cy="823" r="10.5"/><text x="2191" y="807">ENSG00000126895</text></g>
<g id="r40"><circle class="e2" cx="2182" cy="871" r="10.5"/><text x="2032" y="855">ENSG00000155962</text></g>
<g id="r41"><circle class="a" cx="1918" cy="873" r="10.5"/><text x="1768" y="857">ENSG00000100292</text></g>
<g id="r42"><circle class="b" cx="1742" cy="930" r="10.5"/><text x="1592" y="914">ENSG00000133065</text></g>
<g id="r43"><circle class="a" cx="2248" cy="922" r="10.5"/><text x="2098" y="906">ENSG00000144543</text></g>
<g id="r44"><circle class="c" cx="2520" cy="912" r="10.5"/><text x="2370" y="896">ENSG00000109501</text></g>
<g id="r45"><circle class="a" cx="2097" cy="971" r="10.5"/><text x="1947" y="955">ENSG00000092051</text></g>
<g id="r46"><circle class="b" cx="2490" cy="971" r="10.5"/><text x="2340" y="955">ENSG00000104154</text></g>
<g id="r47"><circle class="b" cx="2264" cy="1018" r="10.5"/><text x="2114" y="1002">ENSG00000</text></g>
<g id="r48"><circle class="c" cx="2475" cy="1024" r="10.5"/><text x="2325" y="1008">ENSG00000120915</text></g>
<g id="r49"><circle class="a" cx="1791" cy="1038" r="10.5"/><text x="1641" y="1022">ENSG00000055118</text></g>
<g id="r50"><circle class="c" cx="2013" cy="1062" r="10.5"/><text x="1863" y="1046">ENSG00000069667</text></g>
<g id="r51"><circle class="d" cx="2518" cy="1080" r="10.5"/><text x="2368" y="1064">ENSG00000183023</text></g>
<g id="r52"><circle class="a" cx="2238" cy="1108" r="10.5"/><text x="2088" y="1092">ENSG00000198959</text></g>
<g id="r53"><circle class="b" cx="1940" cy="1130" r="10.5"/><text x="1790" y="1114">ENSG00000107736</text></g>
<g id="r54"><circle class="a" cx="2474" cy="1145" r="10.5"/><text x="2324" y="1129">ENSG00000062282</text></g>
<g id="r55"><circle class="b" cx="1676" cy="1172" r="10.5"/><text x="1526" y="1156">ENSG00000079215</text></g>
<g id="r56"><circle class="d" cx="2119" cy="1186" r="10.5"/><text x="1969" y="1170">ENSG00000188906</text></g>
<g id="r57"><circle class="a" cx="2518" cy="1202" r="10.5"/><text x="2368" y="1186">ENSG00000197993</text></g>
<g id="r58"><circle class="c" cx="1900" cy="1223" r="10.5"/><text x="1750" y="1207">ENSG00000198523</text></g>
<g id="r59"><circle class="a" cx="2254" cy="1250" r="10.5"/><text x="2104" y="1234">ENSG0000001</text></g>
<g id="r60"><circle class="d" cx="2518" cy="1250" r="10.5"/><text x="2368" y="1234">ENSG00000170989</text></g>
<g id="r61"><circle class="a" cx="1705" cy="1270" r="10.5"/><text x="1555" y="1254">ENSG00000148</text></g>
<g id="r62"><circle class="d" cx="1986" cy="1278" r="10.5"/><text x="1836" y="1262">ENSG00000104327</text></g>
<g id="r63"><circle class="g" cx="2543" cy="1298" r="10.5"/><text x="2313" y="1291">ENSG00000181804</text></g>
<g id="r64"><circle class="a" cx="2095" cy="1332" r="10.5"/><text x="1945" y="1316">ENSG00000181104</text></g>
<g id="r65"><circle class="c" cx="2474" cy="1368" r="10.5"/><text x="2324" y="1352">ENSG00000096433</text></g>
<g id="r66"><circle class="b" cx="1924" cy="1414" r="10.5"/><text x="1774" y="1398">ENSG00000213694</text></g>
<g id="r67"><circle class="d" cx="2281" cy="1436" r="10.5"/><text x="2131" y="1420">ENSG00000167306</text></g>
<g id="r68"><circle class="a" cx="1795" cy="1487" r="10.5"/><text x="1645" y="1471">ENSG000000010</text></g>
<g id="r69"><circle class="g" cx="2095" cy="1487" r="10.5"/><text x="1945" y="1471">ENSG00000140030</text></g>
<g id="r70"><circle class="c" cx="2522" cy="1480" r="10.5"/><text x="2372" y="1464">ENSG00000196126</text></g>
<g id="r72"><circle class="a" cx="2171" cy="1532" r="10.5"/><text x="2021" y="1516">ENSG00000150995</text></g>
<g id="r71"><circle class="d" cx="2496" cy="1532" r="10.5"/><text x="2346" y="1516">ENSG00000166035</text></g>
<g id="r73"><circle class="b" cx="1908" cy="1554" r="10.5"/><text x="1758" y="1538">ENSG00000131507</text></g>
<g id="r74"><circle class="a" cx="2286" cy="1587" r="10.5"/><text x="2136" y="1571">ENSG00000178752</text></g>
<g id="r75"><circle class="b" cx="2518" cy="1605" r="10.5"/><text x="2368" y="1589">ENSG00000171130</text></g>
<g id="r76"><circle class="a" cx="1989" cy="1653" r="10.5"/><text x="1839" y="1637">ENSG0000019</text></g>
<g id="r77"><circle class="b" cx="2241" cy="1646" r="10.5"/><text x="2091" y="1630">ENSG00000105974</text></g>
<g id="r78"><circle class="a" cx="2513" cy="1664" r="10.5"/><text x="2363" y="1648">ENSG00000092096</text></g>
<g id="r79"><circle class="c" cx="2363" cy="1718" r="10.5"/><text x="2213" y="1702">ENSG00000156869</text></g>
<g id="r80"><circle class="d" cx="2102" cy="1718" r="10.5"/><text x="1952" y="1702">ENSG00000127954</text></g>
<g id="hub2"><circle class="hub" cx="1954" cy="1764" r="23"/><text x="1768" y="1748">chemical homeostasis</text></g>
<g id="r82"><circle class="c" cx="2518" cy="1766" r="10.5"/><text x="2368" y="1750">ENSG00000196218</text></g>
<g id="r83"><circle class="b" cx="2293" cy="1726" r="10.5"/><text x="2143" y="1768">ENSG00000010704</text></g>
<g id="r84"><circle class="c" cx="2518" cy="1764" r="10.5"/><text x="2368" y="1806">ENSG00000155970</text></g>
<g id="r85"><circle class="a" cx="1755" cy="1754" r="10.5"/><text x="1605" y="1796">ENSG00000138449</text></g>
<g id="r86"><circle class="b" cx="2109" cy="1762" r="10.5"/><text x="1959" y="1804">ENSG00000108950</text></g>
<g id="r87"><circle class="a" cx="1819" cy="1805" r="10.5"/><text x="1669" y="1847">ENSG0000007</text></g>
<g id="r88"><circle class="b" cx="2096" cy="1813" r="10.5"/><text x="1946" y="1855">ENSG00000</text></g>
<g id="r89"><circle class="a" cx="2315" cy="1812" r="10.5"/><text x="2165" y="1854">ENSG00000163464</text></g>
<g id="r90"><circle class="b" cx="2518" cy="1858" r="10.5"/><text x="2368" y="1900">ENSG00000116016</text></g>
<g id="r91"><circle class="c" cx="2150" cy="1878" r="10.5"/><text x="2000" y="1920">ENSG00000109689</text></g>
<g id="r92"><circle class="c" cx="2518" cy="1906" r="10.5"/><text x="2368" y="1948">ENSG00000153162</text></g>
<g id="r94"><circle class="b" cx="2519" cy="1962" r="10.5"/><text x="2369" y="2004">ENSG00000140090</text></g>
<g id="r93"><circle class="c" cx="2262" cy="1954" r="10.5"/><text x="2112" y="1996">ENSG00000080493</text></g>
<g id="r95"><circle class="a" cx="2152" cy="2001" r="10.5"/><text x="2002" y="2043">ENSG00000144476</text></g>
<g id="r96"><circle class="b" cx="2498" cy="2013" r="10.5"/><text x="2348" y="2055">ENSG00000154265</text></g>
<g id="r97"><circle class="c" cx="1815" cy="2038" r="10.5"/><text x="1665" y="2080">ENSG00000152078</text></g>
<g id="r98"><circle class="a" cx="2056" cy="2083" r="10.5"/><text x="1906" y="2125">ENSG00000</text></g>
<g id="r99"><circle class="b" cx="2276" cy="2083" r="10.5"/><text x="2126" y="2125">ENSG000001</text></g>
<g id="r100"><circle class="e2" cx="2518" cy="2086" r="10.5"/><text x="2368" y="2128">ENSG00000169860</text></g>
<g id="r101"><circle class="a" cx="1863" cy="2135" r="10.5"/><text x="1713" y="2177">ENSG00000115657</text></g>
<g id="r102"><circle class="b" cx="2270" cy="2141" r="10.5"/><text x="2120" y="2183">ENSG00000114573</text></g>
<g id="r103"><circle class="a" cx="2518" cy="2181" r="10.5"/><text x="2368" y="2223">ENSG00000100379</text></g>
<g id="r104"><circle class="b" cx="2117" cy="2197" r="10.5"/><text x="1967" y="2239">ENSG00000167723</text></g>
<g id="r105"><circle class="c" cx="2518" cy="2230" r="10.5"/><text x="2368" y="2272">ENSG00000078589</text></g>
<g id="r106"><circle class="d" cx="1877" cy="2261" r="10.5"/><text x="1727" y="2303">ENSG00000183813</text></g>
<g id="r107"><circle class="c" cx="1855" cy="2313" r="10.5"/><text x="1705" y="2355">ENSG0000017544</text></g>
<g id="r108"><circle class="d" cx="2179" cy="2313" r="10.5"/><text x="2029" y="2355">ENSG00000160883</text></g>
<g id="r109"><circle class="a" cx="2518" cy="2309" r="10.5"/><text x="2368" y="2351">ENSG00000107562</text></g>
<g id="r110"><circle class="a" cx="2518" cy="2364" r="10.5"/><text x="2368" y="2406">ENSG00000178966</text></g>
<g id="r111"><circle class="c" cx="2016" cy="2376" r="10.5"/><text x="1866" y="2418">ENSG0000015</text></g>
<g id="r112"><circle class="g" cx="2262" cy="2381" r="10.5"/><text x="2112" y="2423">ENSG00000160791</text></g>
<g id="r113"><circle class="b" cx="2518" cy="2412" r="10.5"/><text x="2368" y="2454">ENSG00000064300</text></g>
<g id="r114"><circle class="a" cx="1901" cy="2424" r="10.5"/><text x="1751" y="2466">ENSG00000092068</text></g>
<g id="r115"><circle class="c" cx="2229" cy="2435" r="10.5"/><text x="2079" y="2477">ENSG00000171051</text></g>
<g id="r116"><circle class="b" cx="2477" cy="2478" r="10.5"/><text x="2327" y="2520">ENSG00000033627</text></g>
<g id="r117"><circle class="d" cx="2099" cy="2494" r="10.5"/><text x="1949" y="2536">ENSG00000112096</text></g>
<g id="r118"><circle class="b" cx="2518" cy="2537" r="10.5"/><text x="2368" y="2579">ENSG00000105971</text></g>
<g id="r119"><circle class="c" cx="2135" cy="2546" r="10.5"/><text x="1985" y="2588">ENSG00000064270</text></g>
<g id="r120"><circle class="a" cx="1822" cy="2565" r="10.5"/><text x="1672" y="2607">ENSG00000148737</text></g>
<g id="r121"><circle class="b" cx="2353" cy="2569" r="10.5"/><text x="2203" y="2611">ENSG00000151882</text></g>
<g id="r122"><circle class="a" cx="2074" cy="2613" r="10.5"/><text x="1924" y="2655">ENSG00000134830</text></g>
<g id="r123"><circle class="b" cx="2516" cy="2615" r="10.5"/><text x="2366" y="2657">ENSG00000166949</text></g>
<g id="r124"><circle class="a" cx="1774" cy="2656" r="10.5"/><text x="1624" y="2698">ENSG00000151320</text></g>
<g id="r125"><circle class="c" cx="2166" cy="2662" r="10.5"/><text x="2016" y="2704">ENSG00000160013</text></g>
<g id="r126"><circle class="b" cx="2518" cy="2665" r="10.5"/><text x="2368" y="2707">ENSG00000130529</text></g>
<g id="r127"><circle class="a" cx="1774" cy="2710" r="10.5"/><text x="1624" y="2752">ENSG0000018</text></g>
<g id="r128"><circle class="c" cx="2034" cy="2710" r="10.5"/><text x="1884" y="2752">ENSG00000085662</text></g>
<g id="r129"><circle class="b" cx="2367" cy="2710" r="10.5"/><text x="2217" y="2752">ENSG00000116678</text></g>
<g id="r130"><circle class="c" cx="1973" cy="2763" r="10.5"/><text x="1823" y="2805">ENSG00000166405</text></g>
<g id="r131"><circle class="e2" cx="2496" cy="2772" r="10.5"/><text x="2346" y="2814">ENSG00000067141</text></g>
<g id="r132"><circle class="a" cx="2251" cy="2803" r="10.5"/><text x="2101" y="2845">ENSG00000182240</text></g>
<g id="r133"><circle class="b" cx="2138" cy="2853" r="10.5"/><text x="1988" y="2895">ENSG00000155</text></g>
<g id="r134"><circle class="d" cx="1939" cy="2837" r="10.5"/><text x="1789" y="2879">ENSG00000198947</text></g>
<g id="r135"><circle class="c" cx="1718" cy="2858" r="10.5"/><text x="1568" y="2900">ENSG00000146021</text></g>
<g id="r136"><circle class="a" cx="2408" cy="2853" r="10.5"/><text x="2258" y="2895">ENSG00000187474</text></g>
<g id="r137"><circle class="b" cx="1769" cy="2910" r="10.5"/><text x="1619" y="2952">ENSG00000182197</text></g>
<g id="r138"><circle class="d" cx="2133" cy="2906" r="10.5"/><text x="1983" y="2948">ENSG00000091831</text></g>
<g id="r139"><circle class="d" cx="2499" cy="2901" r="10.5"/><text x="2349" y="2943">ENSG00000196632</text></g>
<g id="r140"><circle class="a" cx="2137" cy="2974" r="10.5"/><text x="1987" y="3016">ENSG00000158874</text></g>
<g id="r141"><circle class="c" cx="1972" cy="2958" r="10.5"/><text x="1822" y="3000">ENSG00000124181</text></g>
<g id="r142"><circle class="a" cx="2410" cy="2950" r="10.5"/><text x="2260" y="2992">ENSG00000135631</text></g>
<g id="r143"><circle class="b" cx="1767" cy="3004" r="10.5"/><text x="1617" y="3046">ENSG00000144452</text></g>
<g id="r144"><circle class="d" cx="2300" cy="3019" r="10.5"/><text x="2150" y="3061">ENSG00000112033</text></g>
<g id="r145"><circle class="a" cx="1905" cy="3050" r="10.5"/><text x="1755" y="3092">ENSG00000070018</text></g>
<g id="r146"><circle class="d" cx="2425" cy="3070" r="10.5"/><text x="2275" y="3112">ENSG00000103569</text></g>
<g id="r147"><circle class="c" cx="2061" cy="3088" r="10.5"/><text x="1911" y="3130">ENSG00000121797</text></g>
<g id="r148"><circle class="c" cx="1776" cy="3110" r="10.5"/><text x="1626" y="3152">ENSG00000163823</text></g>
<g id="r149"><circle class="a" cx="2315" cy="3122" r="10.5"/><text x="2165" y="3164">ENSG00000145349</text></g>
<g id="r150"><circle class="b" cx="2342" cy="3172" r="10.5"/><text x="2192" y="3214">ENSG00000136868</text></g>
<g id="r151"><circle class="a" cx="1793" cy="3176" r="10.5"/><text x="1643" y="3218">ENSG00000174</text></g>
<g id="r152"><circle class="a" cx="2064" cy="3180" r="10.5"/><text x="1914" y="3222">ENSG00000155093</text></g>
<g id="r153"><circle class="b" cx="2094" cy="3226" r="10.5"/><text x="1944" y="3268">ENSG00000090674</text></g>
<g id="r154"><circle class="c" cx="1827" cy="3226" r="10.5"/><text x="1677" y="3268">ENSG00000152556</text></g>
<g id="r155"><circle class="a" cx="2328" cy="3276" r="10.5"/><text x="2178" y="3318">ENSG00000185989</text></g>
<g id="r156"><circle class="b" cx="2060" cy="3276" r="10.5"/><text x="1910" y="3318">ENSG00000156381</text></g>
<g id="r157"><circle class="a" cx="1790" cy="3276" r="10.5"/><text x="1640" y="3318">ENSG00000169442</text></g>
<g id="r158"><circle class="b" cx="2204" cy="3326" r="10.5"/><text x="2054" y="3368">ENSG00000005471</text></g>
<g id="r159"><circle class="a" cx="1925" cy="3326" r="10.5"/><text x="1775" y="3368">ENSG00000186810</text></g>
</g>
<g id="legend">
<text class="lt" x="2729" y="1673">size</text>
<circle cx="2759" cy="1716" r="16.5" fill="#000"/>
<circle cx="2759" cy="1763" r="19" fill="#000"/>
<circle cx="2759" cy="1812" r="21.5" fill="#000"/>
<circle cx="2759" cy="1868" r="23.5" fill="#000"/>
<text class="lg" x="2803" y="1725">50</text>
<text class="lg" x="2803" y="1772">100</text>
<text class="lg" x="2803" y="1821">150</text>
<text class="lg" x="2803" y="1877">200</text>
<text class="lt" x="2729" y="1943">fold change</text>
<rect x="2729" y="1961" width="46" height="229" fill="url(#fc)"/>
<path d="M2729 2003h9M2766 2003h9M2729 2058h9M2766 2058h9M2729 2111h9M2766 2111h9M2729 2165h9M2766 2165h9" stroke="#fff" stroke-width="2"/>
<text class="lg" x="2791" y="2011">-1</text>
<text class="lg" x="2791" y="2066">-2</text>
<text class="lg" x="2791" y="2119">-3</text>
<text class="lg" x="2791" y="2173">-4</text>
</g>
</svg>
